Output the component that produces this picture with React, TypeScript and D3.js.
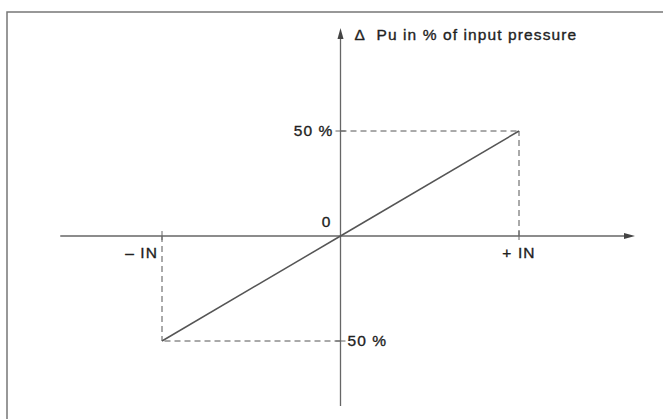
import React from 'react';
import * as d3 from 'd3';

// chart values
const inputTicks = [-1, 1];            // -IN and +IN
const inputLabels = ['\u2013 IN', '+ IN'];
const outputTicks = [50, -50];          // % of input pressure
const outputLabels = ['50 %', '50 %'];
const lineX = [-1, 0, 1];
const lineY = [-50, 0, 50];

// svg dimensions
const svgWidth = 663;
const svgHeight = 419;
const axisColor = '#666';
const textColor = '#222';
const font = '"Liberation Sans", Arial, sans-serif';

const xScale = d3.scaleLinear().domain([-1, 1]).range([162, 519]);
const yScale = d3.scaleLinear().domain([-50, 50]).range([341, 131]);

// axis extents in data units
const xAxisMin = -1.57;
const xAxisMax = 1.65;
const yAxisMin = -81;
const yAxisMax = 99;

export default function App() {
  const x0 = xScale(0);
  const y0 = yScale(0);
  const points: [number, number][] = lineX.map((v, i) => [v, lineY[i]]);
  const line = d3.line<[number, number]>()
    .x(d => xScale(d[0]))
    .y(d => yScale(d[1]));

  const xRight = xScale(xAxisMax);
  const yTop = yScale(yAxisMax);

  return (
    <svg width={svgWidth} height={svgHeight}
      style={{ position: 'absolute', left: 0, top: 0, background: '#fff' }}>
      {/* frame */}
      <path d={`M7,${svgHeight} V12 H${svgWidth}`} fill="none" stroke="#777" strokeWidth={1.5} />

      {/* dashed guides from the end points back to the axes */}
      {inputTicks.map((v, i) => (
        <g key={i} stroke="#555" strokeWidth={1} strokeDasharray="6 4" fill="none">
          <line x1={xScale(v)} y1={y0} x2={xScale(v)} y2={yScale(lineY[i * 2])} />
          <line x1={x0} y1={yScale(lineY[i * 2])} x2={xScale(v)} y2={yScale(lineY[i * 2])} />
        </g>
      ))}

      {/* axes */}
      <line x1={xScale(xAxisMin)} y1={y0} x2={xRight - 8} y2={y0} stroke={axisColor} strokeWidth={1.3} />
      <path d={`M${xRight},${y0} L${xRight - 11},${y0 - 3} L${xRight - 11},${y0 + 3} Z`} fill="#444" />
      <line x1={x0} y1={yScale(yAxisMin)} x2={x0} y2={yTop + 8} stroke={axisColor} strokeWidth={1.3} />
      <path d={`M${x0},${yTop} L${x0 - 3},${yTop + 11} L${x0 + 3},${yTop + 11} Z`} fill="#444" />

      {/* ticks */}
      {inputTicks.map((v, i) => (
        <line key={'xt' + i} x1={xScale(v)} x2={xScale(v)} y1={y0 - 5} y2={y0 + 4} stroke={axisColor} />
      ))}
      {outputTicks.map((v, i) => (
        <line key={'yt' + i} x1={x0 - 5} x2={x0 + 5} y1={yScale(v)} y2={yScale(v)} stroke={axisColor} />
      ))}

      {/* transfer line */}
      <path d={line(points) || ''} fill="none" stroke="#555" strokeWidth={1.5} />

      {/* labels */}
      <g fontFamily={font} fontSize={15.5} fill={textColor} stroke={textColor} strokeWidth={0.35}
        letterSpacing={1.1}>
        <text x={x0 + 14} y={yTop + 12}>{'\u0394'}</text>
        <text x={x0 + 36} y={yTop + 12}>Pu in % of input pressure</text>
        <text x={x0 - 7} y={yScale(outputTicks[0]) + 5} textAnchor="end">{outputLabels[0]}</text>
        <text x={x0 + 7} y={yScale(outputTicks[1]) + 5}>{outputLabels[1]}</text>
        <text x={x0 - 9} y={y0 - 9} textAnchor="end">0</text>
        <text x={xScale(inputTicks[0]) - 4} y={y0 + 22} textAnchor="end">{inputLabels[0]}</text>
        <text x={xScale(inputTicks[1])} y={y0 + 22} textAnchor="middle">{inputLabels[1]}</text>
      </g>
    </svg>
  );
}
